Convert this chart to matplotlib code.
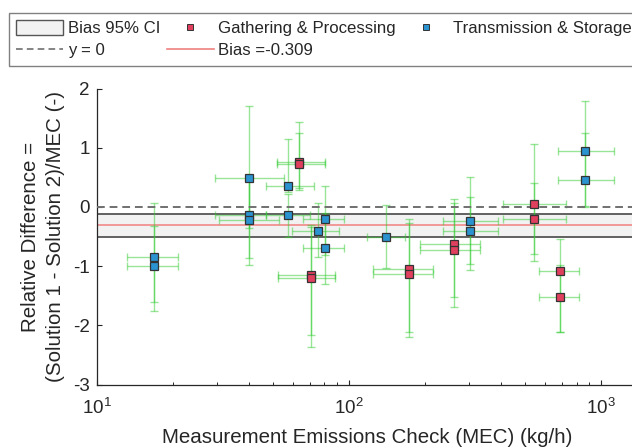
import matplotlib
matplotlib.use('Agg')
import numpy as np
import matplotlib.pyplot as plt
from matplotlib.lines import Line2D
from matplotlib.patches import Patch

plt.rcParams['font.family'] = ['Liberation Sans', 'DejaVu Sans']
plt.rcParams['axes.unicode_minus'] = False

# Gathering & Processing
gp_mec = [63.2, 63.2, 71, 71, 173, 173, 262, 262, 540, 540, 689, 689]
gp_mec_lo = [51.8, 51.8, 52.4, 52.4, 124.5, 124.5, 191, 191, 407, 407, 569, 569]
gp_mec_hi = [80.4, 80.4, 88.5, 88.5, 216, 216, 330, 330, 728, 728, 815, 815]
gp_rd = [0.76, 0.72, -1.15, -1.20, -1.05, -1.14, -0.63, -0.73, 0.05, -0.21, -1.09, -1.53]
gp_rd_lo = [0.32, 0.28, -2.16, -2.37, -2.11, -2.19, -1.53, -1.69, -0.79, -0.92, -2.12, -2.12]
gp_rd_hi = [1.43, 1.25, -0.34, -0.30, -0.21, -0.28, 0.14, 0.07, 1.07, 0.40, -0.55, -0.98]

# Transmission & Storage
ts_mec = [16.9, 16.9, 40.3, 40.3, 40.3, 57.2, 57.2, 75.2, 80.4, 80.4, 141, 301, 301, 863, 863]
ts_mec_lo = [13.2, 13.2, 29.4, 29.5, 30.6, 46.8, 47.0, 59.3, 66.0, 66.0, 117.5, 236.6, 236.6, 676, 676]
ts_mec_hi = [21.1, 21.1, 55.3, 46.9, 52.7, 72.6, 70.0, 91.2, 96.0, 96.0, 167.7, 391, 391, 1127, 1127]
ts_rd = [-0.84, -1.00, 0.48, -0.14, -0.22, 0.36, -0.14, -0.41, -0.20, -0.69, -0.51, -0.24, -0.40, 0.95, 0.46]
ts_rd_lo = [-1.61, -1.75, -0.35, -0.86, -0.98, 0.25, -0.51, -0.84, -0.81, -1.31, -1.04, -0.97, -1.07, 0.02, 0.00]
ts_rd_hi = [0.06, -0.33, 1.70, 0.53, 0.53, 1.14, 0.22, 0.07, 0.35, -0.10, 0.03, 0.50, 0.17, 1.79, 1.25]

bias = -0.309
bias_ci = [-0.501, -0.117]

red = '#e0405e'
blue = '#2b93cf'
green = (0.2, 0.8, 0.2)
dark = '#262626'

fig = plt.figure(figsize=(6.32, 4.47), dpi=100)
ax = fig.add_axes([0.153, 0.1398, 0.855, 0.6622])

ax.axhspan(bias_ci[0], bias_ci[1], facecolor='#f2f2f2', edgecolor='#555555', lw=1.3, zorder=1)
ax.axhline(bias, color='#f08080', lw=1.1, zorder=1.5)
ax.axhline(0, color='#707070', lw=1.4, ls=(0, (4, 2.5)), zorder=4)


def draw_group(mec, mec_lo, mec_hi, rd, rd_lo, rd_hi, face):
    x = np.array(mec)
    y = np.array(rd)
    xerr = [x - np.array(mec_lo), np.array(mec_hi) - x]
    yerr = [y - np.array(rd_lo), np.array(rd_hi) - y]
    ax.errorbar(x, y, xerr=xerr, yerr=yerr, fmt='none', ecolor=green, alpha=0.5,
                elinewidth=1.0, capsize=2.6, capthick=1.0, zorder=2)
    ax.plot(x, y, ls='none', marker='s', ms=6, mfc=face, mec='#333333', mew=0.9, zorder=5)


draw_group(gp_mec, gp_mec_lo, gp_mec_hi, gp_rd, gp_rd_lo, gp_rd_hi, red)
draw_group(ts_mec, ts_mec_lo, ts_mec_hi, ts_rd, ts_rd_lo, ts_rd_hi, blue)

ax.set_xscale('log')
ax.set_xlim(10, 1390)
ax.set_ylim(-3, 2)
ax.set_yticks([-3, -2, -1, 0, 1, 2])
ax.set_xticks([10, 100, 1000])

for s in ['top', 'right']:
    ax.spines[s].set_visible(False)
for s in ['left', 'bottom']:
    ax.spines[s].set_color(dark)
    ax.spines[s].set_linewidth(0.9)

ax.tick_params(which='both', direction='in', colors=dark, labelsize=13.5)
ax.tick_params(which='major', length=3.5, width=0.8)
ax.tick_params(which='minor', length=2.2, width=0.7)
ax.tick_params(axis='x', pad=10)
ax.tick_params(axis='y', pad=5)

ax.set_xlabel('Measurement Emissions Check (MEC) (kg/h)', fontsize=14.8, color=dark, labelpad=7)
ax.set_ylabel('Relative Difference =\n(Solution 1 - Solution 2)/MEC (-)', fontsize=14.8,
              color=dark, labelpad=6, linespacing=1.4)

handles = [
    Patch(facecolor='#f2f2f2', edgecolor='#555555', lw=1.0),
    Line2D([], [], color='#707070', lw=1.2, ls=(0, (4, 2.5))),
    Line2D([], [], ls='none', marker='s', ms=5, mfc=red, mec='#333333', mew=0.7),
    Line2D([], [], color='#f08080', lw=1.2),
    Line2D([], [], ls='none', marker='s', ms=5, mfc=blue, mec='#333333', mew=0.7),
]
labels = ['Bias 95% CI', 'y = 0', 'Gathering & Processing', 'Bias =' + f'{bias:.3f}',
          'Transmission & Storage']
leg = fig.legend(handles, labels, ncol=3, loc='upper left',
                 bbox_to_anchor=(9.3 / 632, 1 - 13.3 / 447), bbox_transform=fig.transFigure,
                 borderaxespad=0, fontsize=12.1, frameon=True, fancybox=False,
                 edgecolor='#808080', framealpha=1, handlelength=2.8, handleheight=0.95,
                 handletextpad=0.26, columnspacing=0.38, labelspacing=0.36, borderpad=0.42)
leg.get_frame().set_linewidth(1.0)
for t in leg.get_texts():
    t.set_color(dark)

fig.savefig('out.png', dpi=100)
